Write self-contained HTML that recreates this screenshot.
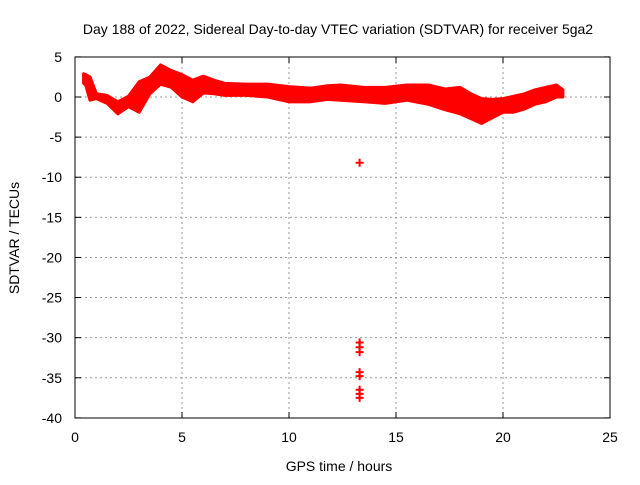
<!DOCTYPE html>
<html><head><meta charset="utf-8"><style>
body{margin:0;background:#fff}
svg text{font-family:"Liberation Sans",sans-serif;font-size:14px;fill:#000}
</style></head><body>
<svg width="640" height="480">
<text x="338" y="34" text-anchor="middle">Day 188 of 2022, Sidereal Day-to-day VTEC variation (SDTVAR) for receiver 5ga2</text>
<g id="grid"></g>
<g id="axes"></g>
<g id="band"></g>
<rect x="75" y="57" width="535" height="361" fill="none" stroke="#000"/>
<text x="339" y="471" text-anchor="middle">GPS time / hours</text>
<text transform="translate(19,238) rotate(-90)" text-anchor="middle">SDTVAR / TECUs</text>
</svg>
<script>
const xTicks=[0,5,10,15,20,25];
const yTicks=[5,0,-5,-10,-15,-20,-25,-30,-35,-40];
const hours=[0.4,0.5,0.7,1.0,1.5,2.0,2.5,3.0,3.5,4.0,4.5,5.0,5.5,6.0,6.5,7.0,8,9,10,11,11.8,12.4,13.5,14.5,15.5,16.5,17.3,18.0,18.5,19.0,19.5,20.0,20.5,21.0,21.5,22.0,22.5,22.8];
const upper=[2.9,2.8,2.5,0.4,0.2,-0.6,0.1,1.9,2.5,4.0,3.3,2.8,2.1,2.6,2.1,1.7,1.6,1.6,1.3,1.1,1.4,1.5,1.2,1.2,1.5,1.5,1.0,1.2,0.4,-0.2,-0.3,-0.2,0.1,0.4,0.9,1.2,1.5,0.9];
const lower=[1.7,1.5,-0.4,-0.2,-0.8,-2.1,-1.2,-1.9,0.4,1.6,1.2,0.0,-0.6,0.5,0.4,0.2,0.2,0.0,-0.6,-0.6,-0.3,-0.4,-0.6,-0.8,-0.4,-0.9,-1.6,-2.1,-2.7,-3.3,-2.6,-1.9,-1.9,-1.5,-0.9,-0.6,0.0,0.0];
const outX=[13.3,13.3,13.3,13.3,13.3,13.3,13.3,13.3,13.3];
const outY=[-8.2,-30.6,-31.2,-31.8,-34.3,-34.8,-36.5,-37.0,-37.5];
const X=h=>75+h*(535/25);
const Y=v=>97-v*(361/45);
const NS="http://www.w3.org/2000/svg";
function mk(t,a,p){const e=document.createElementNS(NS,t);for(const k in a)e.setAttribute(k,a[k]);p.appendChild(e);return e;}
const grid=document.getElementById('grid'),axes=document.getElementById('axes'),band=document.getElementById('band');
xTicks.forEach(t=>{
 if(t>0&&t<25){const l=mk('line',{x1:X(t),x2:X(t),y1:57,y2:418,stroke:'#999','stroke-dasharray':'2,3'},grid);
 
 }
 mk('line',{x1:X(t),x2:X(t),y1:418,y2:412,stroke:'#000'},axes);
 mk('line',{x1:X(t),x2:X(t),y1:57,y2:63,stroke:'#000'},axes);
 const tx=mk('text',{x:X(t),y:442,'text-anchor':'middle'},axes);tx.textContent=t;
 
 
});
yTicks.forEach(t=>{
 if(t<5&&t>-40){const l=mk('line',{x1:75,x2:610,y1:Y(t),y2:Y(t),stroke:'#999','stroke-dasharray':'2,3'},grid);
 
 }
 mk('line',{x1:75,x2:81,y1:Y(t),y2:Y(t),stroke:'#000'},axes);
 mk('line',{x1:604,x2:610,y1:Y(t),y2:Y(t),stroke:'#000'},axes);
 const tx=mk('text',{x:62,y:Y(t)+5,'text-anchor':'end'},axes);tx.textContent=t;
 
 
});
let pts=hours.map((h,i)=>X(h)+','+Y(upper[i]));
for(let i=hours.length-1;i>=0;i--)pts.push(X(hours[i])+','+Y(lower[i]));
const poly=mk('polygon',{points:pts.join(' '),fill:'#f00',stroke:'#f00','stroke-width':3,'stroke-linejoin':'round'},band);


outX.forEach((h,i)=>{
 const g=mk('path',{d:`M${X(h)-4},${Y(outY[i])}h8M${X(h)},${Y(outY[i])-4}v8`,stroke:'#f00','stroke-width':2},band);
 
 
});
</script>
</body></html>
